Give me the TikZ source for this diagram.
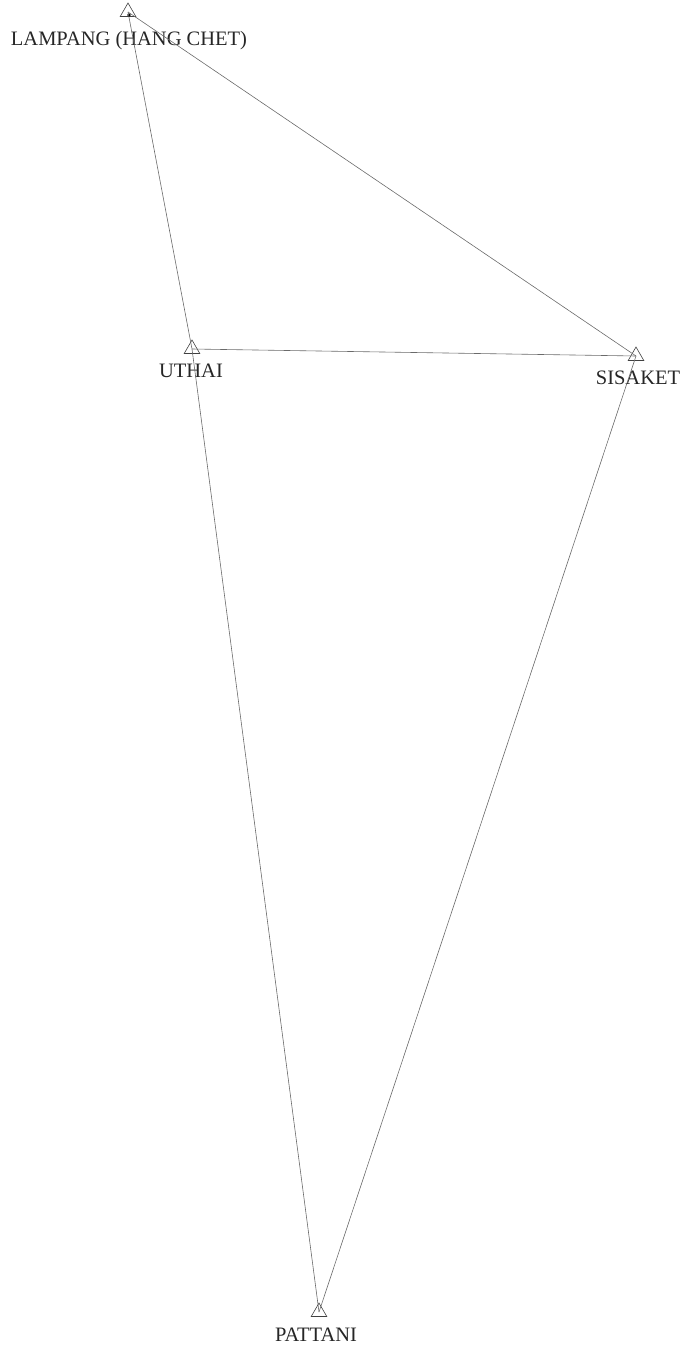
\documentclass[tikz,border=0pt]{standalone}
\usepackage{fontspec}
\setmainfont{Liberation Serif}
\usetikzlibrary{shapes.geometric}
\definecolor{linkgray}{HTML}{6A6A6A}
\definecolor{markgray}{HTML}{404040}

\begin{document}
\begin{tikzpicture}[x=1pt, y=-1pt,
    station/.style={draw=markgray, regular polygon, regular polygon sides=3,
                    inner sep=0pt, minimum size=18pt, line width=0.6pt},
    lbl/.style={font=\fontsize{20.5}{20.5}\selectfont, text=black!85, inner sep=0pt},
    link/.style={draw=linkgray, line width=0.6pt}
  ]
    \useasboundingbox (0,0) rectangle (680,1348);

    % Stations
    \node[station] (lampang) at (128,12) {};
    \node[station] (uthai) at (192,349) {};
    \node[station] (sisaket) at (636,356) {};
    \node[station] (pattani) at (319,1312) {};
    \fill[black] (129,15) circle (1.8pt);

    % Names
    \node[lbl] (lampanglbl) at (129,41) {LAMPANG (HANG CHET)};
    \node[lbl] (uthailbl) at (191,371) {UTHAI};
    \node[lbl] (sisaketlbl) at (638,378) {SISAKET};
    \node[lbl] (pattanilbl) at (316,1335) {PATTANI};

    % Links
    \draw[link] (lampang.center) -- (uthai.center);
    \draw[link] (lampang.center) -- (sisaket.center);
    \draw[link] (uthai.center) -- (sisaket.center);
    \draw[link] (uthai.center) -- (pattani.center);
    \draw[link] (sisaket.center) -- (pattani.center);
  \end{tikzpicture}
\end{document}
